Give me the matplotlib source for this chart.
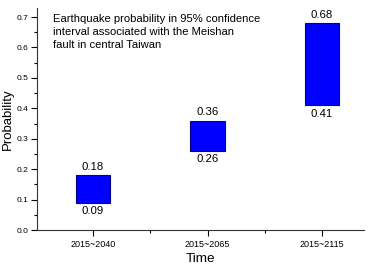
import matplotlib
matplotlib.use("Agg")
import matplotlib.pyplot as plt
from matplotlib.ticker import MultipleLocator, FixedLocator

periods = ["2015~2040", "2015~2065", "2015~2115"]
lower = [0.09, 0.26, 0.41]
upper = [0.18, 0.36, 0.68]

plt.rcParams["font.family"] = ["Liberation Sans", "DejaVu Sans"]

fig = plt.figure(figsize=(3.71, 2.65), dpi=100)
ax = fig.add_axes([0.10, 0.132, 0.881, 0.838])

x = [1, 2, 3]
heights = [u - l for u, l in zip(upper, lower)]
ax.bar(x, heights, bottom=lower, width=0.3, color="#0000FF",
       edgecolor="#000080", linewidth=0.8)

for xi, lo, hi in zip(x, lower, upper):
    ax.text(xi, hi + 0.011, f"{hi:.2f}", ha="center", va="bottom", fontsize=8.2)
    ax.text(xi, lo - 0.011, f"{lo:.2f}", ha="center", va="top", fontsize=8.2)

ax.set_xlim(0.511, 3.367)
ax.set_ylim(0, 0.73)
ax.set_xticks(x)
ax.set_xticklabels(periods, fontsize=6.5)
ax.xaxis.set_minor_locator(FixedLocator([1.5, 2.5]))
ax.yaxis.set_major_locator(MultipleLocator(0.1))
ax.yaxis.set_minor_locator(MultipleLocator(0.05))
ax.tick_params(axis="y", labelsize=6, length=4, width=0.8, pad=2)
ax.tick_params(axis="x", length=4, width=0.8, pad=3)
ax.tick_params(which="minor", length=2.5, width=0.8)

for side in ["top", "right"]:
    ax.spines[side].set_visible(False)
for side in ["left", "bottom"]:
    ax.spines[side].set_linewidth(0.8)
    ax.spines[side].set_color("#333333")

ax.set_xlabel("Time", fontsize=9.7, labelpad=3)
ax.set_ylabel("Probability", fontsize=9.5, labelpad=1)
ax.yaxis.set_label_coords(-0.07, 0.5)

ax.text(0.05, 0.975, "Earthquake probability in 95% confidence\n"
        "interval associated with the Meishan\nfault in central Taiwan",
        transform=ax.transAxes, ha="left", va="top", fontsize=8.1,
        linespacing=1.42)

fig.savefig("out.png", dpi=100)
